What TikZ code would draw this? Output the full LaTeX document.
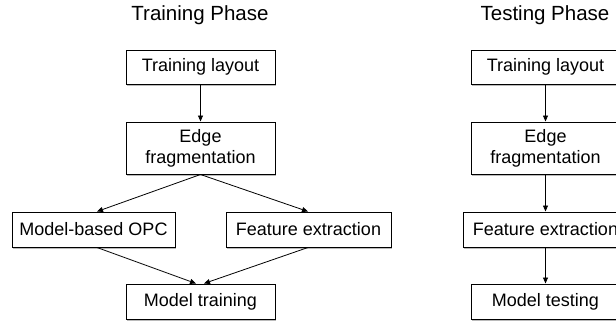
\documentclass[tikz,border=0pt]{standalone}
\usepackage{fontspec}
\setmainfont{Liberation Sans}
\usetikzlibrary{arrows.meta,shadows}
\begin{document}
\begin{tikzpicture}[x=1pt,y=-1pt,
  box/.style={draw=black,line width=1pt,fill=white,inner sep=0pt,align=center,
    font=\fontsize{18}{21}\selectfont,
    drop shadow={shadow xshift=0.6pt,shadow yshift=-1.8pt,fill=black!45,opacity=0.6}},
  title/.style={inner sep=0pt,font=\fontsize{20.5}{24}\selectfont},
  arr/.style={draw=black,line width=0.8pt,-{Triangle[length=6pt,width=5pt]}}]
\useasboundingbox (0,0) rectangle (616,322);
% Training phase
\node[title] (t1) at (200,15) {Training Phase};
\node[box,minimum width=149pt,minimum height=34pt] (a1) at (200.5,67) {Training layout};
\node[box,minimum width=149pt,minimum height=52pt] (a2) at (200.5,148) {Edge\\fragmentation};
\node[box,minimum width=163pt,minimum height=35pt] (a3) at (93.5,229.5) {Model-based OPC};
\node[box,minimum width=165pt,minimum height=35pt] (a4) at (308.5,229.5) {Feature extraction};
\node[box,minimum width=149pt,minimum height=35pt] (a5) at (200.5,301.5) {Model training};
\draw[arr] (a1) -- (a2);
\draw[arr] (a2.south) -- ([xshift=3.5pt]a3.north);
\draw[arr] (a2.south) -- ([xshift=-0.5pt]a4.north);
\draw[arr] ([xshift=3.5pt]a3.south) -- ([xshift=-4.5pt]a5.north);
\draw[arr] ([xshift=-0.5pt]a4.south) -- ([xshift=3.5pt]a5.north);
% Testing phase
\node[title] (t2) at (545,15) {Testing Phase};
\node[box,minimum width=149pt,minimum height=34pt] (b1) at (545.5,67) {Training layout};
\node[box,minimum width=149pt,minimum height=52pt] (b2) at (545.5,148) {Edge\\fragmentation};
\node[box,minimum width=165pt,minimum height=35pt] (b3) at (545.5,229.5) {Feature extraction};
\node[box,minimum width=149pt,minimum height=35pt] (b4) at (545.5,301.5) {Model testing};
\draw[arr] (b1) -- (b2);
\draw[arr] (b2) -- (b3);
\draw[arr] (b3) -- (b4);
\end{tikzpicture}
\end{document}
